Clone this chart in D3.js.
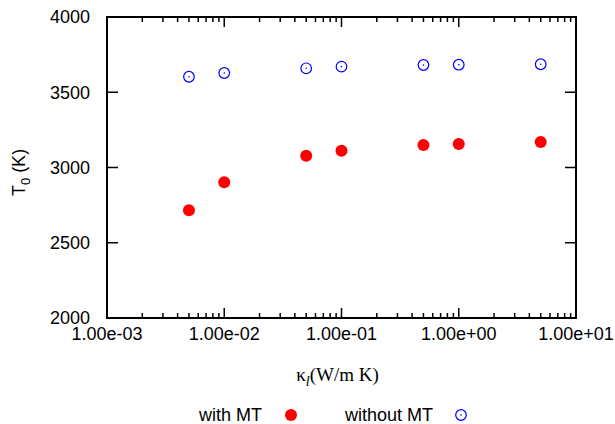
<!DOCTYPE html>
<html>
<head>
<meta charset="utf-8">
<script src="https://cdn.jsdelivr.net/npm/d3@7"></script>
<style>
  body { margin: 0; background: #fff; }
  svg { display: block; }
  .tick-label { font-family: "Liberation Sans", Arial, sans-serif; font-size: 18px; fill: #000; }
</style>
</head>
<body>
<script>
// Data
let kappa = [5e-3, 1e-2, 5e-2, 1e-1, 5e-1, 1, 5];
let withMT = [2716, 2902, 3078, 3112, 3149, 3156, 3169];
let withoutMT = [3603, 3628, 3659, 3670, 3681, 3683, 3686];
let xTicks = [1e-3, 1e-2, 1e-1, 1e0, 1e1];
let xTickLabels = ["1.00e-03", "1.00e-02", "1.00e-01", "1.00e+00", "1.00e+01"];
let yTicks = [2000, 2500, 3000, 3500, 4000];

let margin = null, width = null, height = null;
let svg = null;
let x, y = null;

setupCanvasSize();
appendSvg("body");
setupScales();
appendTicks();
appendFrame();
appendLabels();
appendPoints();
appendLegend();

function setupCanvasSize() {
  margin = {top: 17, left: 107, bottom: 106, right: 39};
  width = 615 - margin.left - margin.right;
  height = 424 - margin.top - margin.bottom;
}

function appendSvg(domElement) {
  svg = d3.select(domElement).append("svg")
    .attr("width", 615)
    .attr("height", 424)
    .append("g")
    .attr("transform", `translate(${margin.left}, ${margin.top})`);
}

function setupScales() {
  x = d3.scaleLog().domain([1e-3, 1e1]).range([0, width]);
  y = d3.scaleLinear().domain([2000, 4000]).range([height, 0]);
}

// inward ticks on all four sides, gnuplot style
function appendTicks() {
  let minor = [];
  for (let e = -3; e < 1; e++) {
    for (let m = 2; m <= 9; m++) minor.push(m * Math.pow(10, e));
  }
  let g = svg.append("g").attr("stroke", "#000").attr("stroke-width", 1.5);
  minor.forEach(function(v) {
    g.append("line").attr("x1", x(v)).attr("x2", x(v)).attr("y1", height).attr("y2", height - 5);
    g.append("line").attr("x1", x(v)).attr("x2", x(v)).attr("y1", 0).attr("y2", 5);
  });
  xTicks.forEach(function(v) {
    g.append("line").attr("x1", x(v)).attr("x2", x(v)).attr("y1", height).attr("y2", height - 10);
    g.append("line").attr("x1", x(v)).attr("x2", x(v)).attr("y1", 0).attr("y2", 10);
  });
  yTicks.forEach(function(v) {
    g.append("line").attr("x1", 0).attr("x2", 11).attr("y1", y(v)).attr("y2", y(v));
    g.append("line").attr("x1", width).attr("x2", width - 11).attr("y1", y(v)).attr("y2", y(v));
  });
}

function appendFrame() {
  svg.append("rect")
    .attr("width", width)
    .attr("height", height)
    .attr("fill", "none")
    .attr("stroke", "#000")
    .attr("stroke-width", 2);
}

function appendLabels() {
  svg.selectAll(".ylab").data(yTicks).enter().append("text")
    .attr("class", "tick-label")
    .attr("x", -17)
    .attr("y", d => y(d))
    .attr("dy", "0.35em")
    .attr("text-anchor", "end")
    .text(d => d);

  svg.selectAll(".xlab").data(xTicks).enter().append("text")
    .attr("class", "tick-label")
    .attr("x", d => x(d))
    .attr("y", height + 22)
    .attr("text-anchor", "middle")
    .text((d, i) => xTickLabels[i]);

  // y axis title
  let yt = svg.append("text")
    .attr("class", "tick-label")
    .attr("transform", `translate(${-82}, ${height / 2 + 5}) rotate(-90)`)
    .attr("text-anchor", "middle");
  yt.append("tspan").text("T");
  yt.append("tspan").attr("dy", 5).attr("font-size", 13).text("0");
  yt.append("tspan").attr("dy", -5).text(" (K)");

  // x axis title
  let xt = svg.append("text")
    .attr("x", width / 2 - 4)
    .attr("y", height + 63)
    .attr("text-anchor", "middle")
    .style("font-family", "'Liberation Serif', 'Times New Roman', serif")
    .style("font-size", "19px");
  xt.append("tspan").text("\u03ba");
  xt.append("tspan").attr("dy", 5).attr("font-size", 14).attr("font-style", "italic").text("l");
  xt.append("tspan").attr("dy", -5).text("(W/m K)");
}

function appendPoints() {
  let pts = kappa.map((k, i) => ({k: k, a: withMT[i], b: withoutMT[i]}));
  svg.selectAll(".red").data(pts).enter().append("circle")
    .attr("cx", d => x(d.k))
    .attr("cy", d => y(d.a))
    .attr("r", 6)
    .attr("fill", "#ff0000");
  svg.selectAll(".blue").data(pts).enter().append("circle")
    .attr("cx", d => x(d.k))
    .attr("cy", d => y(d.b))
    .attr("r", 5.3)
    .attr("fill", "none")
    .attr("stroke", "#0000ff")
    .attr("stroke-width", 1.2);
  svg.selectAll(".bdot").data(pts).enter().append("circle")
    .attr("cx", d => x(d.k))
    .attr("cy", d => y(d.b))
    .attr("r", 0.8)
    .attr("fill", "#0000ff");
}

function appendLegend() {
  let root = d3.select("svg");
  root.append("text").attr("class", "tick-label")
    .attr("x", 262).attr("y", 421).attr("text-anchor", "end").text("with MT");
  root.append("circle").attr("cx", 291).attr("cy", 415).attr("r", 6).attr("fill", "#ff0000");
  root.append("text").attr("class", "tick-label")
    .attr("x", 433).attr("y", 421).attr("text-anchor", "end").text("without MT");
  root.append("circle").attr("cx", 461).attr("cy", 415).attr("r", 5.3)
    .attr("fill", "none").attr("stroke", "#0000ff").attr("stroke-width", 1.2);
  root.append("circle").attr("cx", 461).attr("cy", 415).attr("r", 0.8).attr("fill", "#0000ff");
}
</script>
</body>
</html>
